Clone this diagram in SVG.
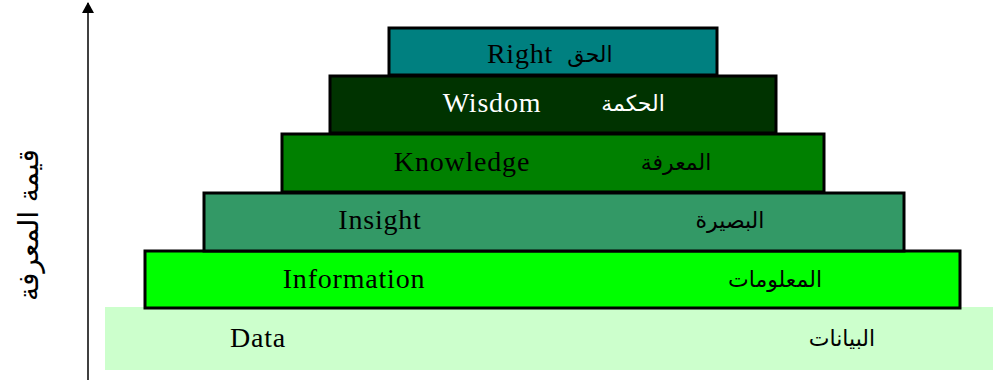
<svg xmlns="http://www.w3.org/2000/svg" width="993" height="380" viewBox="0 0 993 380">
<style>
.lv{stroke:#000;stroke-width:3}
.en{font-family:"Liberation Serif","Times New Roman",serif;font-size:28px;letter-spacing:0.8px;text-anchor:middle}
.ar{font-family:"DejaVu Sans","Noto Sans",sans-serif;font-size:22px;text-anchor:middle}
</style>
<defs>
<marker id="ah" markerWidth="11" markerHeight="12" refX="10" refY="6" orient="auto" markerUnits="userSpaceOnUse" viewBox="0 0 11 12">
<path d="M0,0 L11,6 L0,12 Z" fill="#000"/>
</marker>
</defs>
<rect width="993" height="380" fill="#fff"/>
<g id="connectors">
<line x1="88" y1="380" x2="88" y2="3" stroke="#000" stroke-width="1.5" marker-end="url(#ah)"/>
</g>
<g id="axis-label">
<text class="ar" transform="translate(38,225) rotate(-90)" style="font-size:28px">قيمة المعرفة</text>
</g>
<g id="data">
<rect x="105" y="307" width="890" height="63" fill="#CCFFCC"/>
<text class="en" x="258" y="347" fill="#000">Data</text>
<text class="ar" x="842" y="346" fill="#000">البيانات</text>
</g>
<g id="information">
<rect class="lv" x="145" y="251" width="815" height="57" fill="#00FF00"/>
<text class="en" x="354" y="288" fill="#000">Information</text>
<text class="ar" x="775" y="287" fill="#000">المعلومات</text>
</g>
<g id="insight">
<rect class="lv" x="204" y="193" width="700" height="58" fill="#339966"/>
<text class="en" x="380" y="229" fill="#000">Insight</text>
<text class="ar" x="730" y="228" fill="#000">البصيرة</text>
</g>
<g id="knowledge">
<rect class="lv" x="282" y="134" width="542" height="58" fill="#008000"/>
<text class="en" x="462" y="171" fill="#000">Knowledge</text>
<text class="ar" x="676" y="170" fill="#000">المعرفة</text>
</g>
<g id="wisdom">
<rect class="lv" x="330" y="76" width="446" height="57" fill="#003300"/>
<text class="en" x="492" y="112" fill="#fff">Wisdom</text>
<text class="ar" x="633" y="111" fill="#fff">الحكمة</text>
</g>
<g id="right">
<rect class="lv" x="389" y="28" width="328" height="47" fill="#008080"/>
<text class="en" x="520" y="63" fill="#000">Right</text>
<text class="ar" x="590" y="62" fill="#000">الحق</text>
</g>
</svg>
